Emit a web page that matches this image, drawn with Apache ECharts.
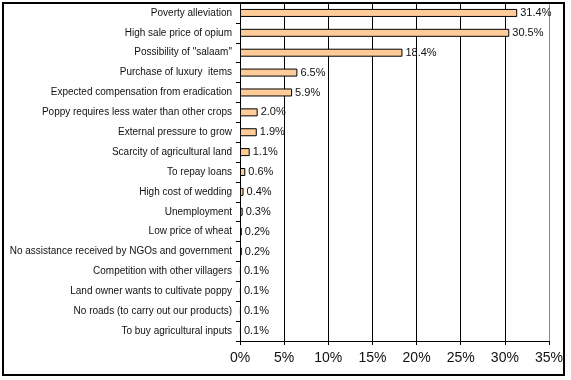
<!DOCTYPE html>
<html>
<head>
<meta charset="utf-8">
<script src="https://cdn.jsdelivr.net/npm/echarts@6/dist/echarts.min.js"></script>
<style>
html,body{margin:0;padding:0;background:#fff;}
#c{width:571px;height:380px;}
</style>
</head>
<body>
<div id="c"></div>
<script>
var categories = [
  "Poverty alleviation",
  "High sale price of opium",
  "Possibility of \"salaam\"",
  "Purchase of luxury  items",
  "Expected compensation from eradication",
  "Poppy requires less water than other crops",
  "External pressure to grow",
  "Scarcity of agricultural land",
  "To repay loans",
  "High cost of wedding",
  "Unemployment",
  "Low price of wheat",
  "No assistance received by NGOs and government",
  "Competition with other villagers",
  "Land owner wants to cultivate poppy",
  "No roads (to carry out our products)",
  "To buy agricultural inputs"
];
var values = [31.4, 30.5, 18.4, 6.5, 5.9, 2.0, 1.9, 1.1, 0.6, 0.4, 0.3, 0.2, 0.2, 0.1, 0.1, 0.1, 0.1];
var xTicks = [0, 5, 10, 15, 20, 25, 30, 35];

var chart = echarts.init(document.getElementById('c'), null, {renderer: 'canvas'});
chart.setOption({
  animation: false,
  backgroundColor: '#fff',
  textStyle: {fontFamily: 'Liberation Sans, Arial, sans-serif'},
  grid: {left: 240, right: 22, top: 3, bottom: 39, containLabel: false},
  xAxis: {
    type: 'value',
    min: xTicks[0],
    max: xTicks[xTicks.length - 1],
    interval: 5,
    axisLine: {show: true, lineStyle: {color: '#000', width: 1}},
    axisTick: {show: true, length: 4, lineStyle: {color: '#000'}},
    axisLabel: {
      formatter: '{value}%',
      fontSize: 14,
      color: '#111',
      margin: 10,
      fontFamily: 'Liberation Sans, Arial, sans-serif'
    },
    splitLine: {
      show: true,
      lineStyle: {color: ['#000', '#000', '#000', '#000', '#000', '#000', '#000', '#888'], width: 1}
    }
  },
  yAxis: {
    type: 'category',
    data: categories,
    inverse: true,
    axisLine: {show: true, lineStyle: {color: '#000', width: 1}},
    axisTick: {show: true, length: 4, lineStyle: {color: '#000'}},
    axisLabel: {
      fontSize: 10,
      color: '#111',
      margin: 8,
      fontFamily: 'Liberation Sans, Arial, sans-serif'
    },
    splitLine: {show: false}
  },
  series: [{
    type: 'bar',
    data: values,
    barWidth: 8,
    itemStyle: {color: '#FFCC99', borderColor: '#000', borderWidth: 1},
    label: {
      show: true,
      position: 'right',
      distance: 3,
      fontSize: 11,
      color: '#111',
      fontFamily: 'Liberation Sans, Arial, sans-serif',
      formatter: function (p) { return p.value.toFixed(1) + '%'; }
    }
  }],
  graphic: [{
    type: 'rect',
    shape: {x: 3, y: 3, width: 561, height: 372},
    style: {fill: 'none', stroke: '#000', lineWidth: 2},
    silent: true,
    z: 100
  }]
});
</script>
</body>
</html>
